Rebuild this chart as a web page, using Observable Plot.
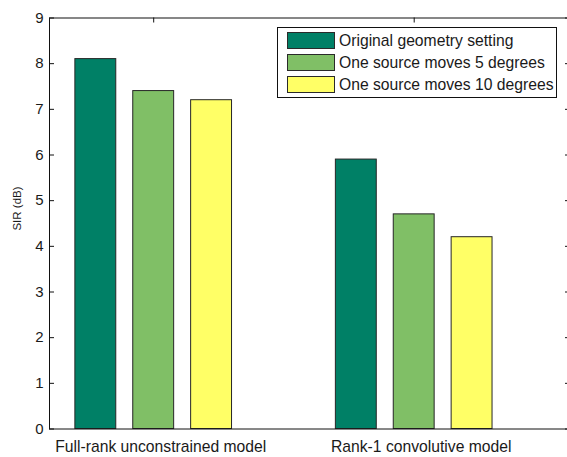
<!DOCTYPE html>
<html>
<head>
<meta charset="utf-8">
<script src="https://cdn.jsdelivr.net/npm/d3@7"></script>
<script src="https://cdn.jsdelivr.net/npm/@observablehq/plot@0.6"></script>
<style>
  html, body { margin: 0; padding: 0; background: white; }
  #wrap { position: relative; width: 567px; height: 457px; overflow: hidden; font-family: "Liberation Sans", Arial, sans-serif; }
  #legend { position: absolute; left: 277px; top: 27px; width: 280px; height: 71px; border: 1px solid #111; background: white; box-sizing: border-box; }
  .row { position: absolute; left: 9px; height: 17px; display: flex; align-items: center; white-space: nowrap; }
  .sw { width: 48px; height: 17px; border: 1px solid #2a2a2a; box-sizing: border-box; margin-right: 4px; }
  .lt { font-size: 15.7px; color: #1a1a1a; }
</style>
</head>
<body>
<div id="wrap"><div id="legend"></div></div>
<script>
const groups = ["Full-rank unconstrained model", "Rank-1 convolutive model"];
const series = ["Original geometry setting", "One source moves 5 degrees", "One source moves 10 degrees"];
const original = [8.1, 5.9];
const moved5 = [7.4, 4.7];
const moved10 = [7.2, 4.2];
const yTicks = [0, 1, 2, 3, 4, 5, 6, 7, 8, 9];
const xTicks = [1, 2];
const colors = ["#008066", "#80bf66", "#ffff66"];
const yLabel = "SIR (dB)";

const seriesValues = [original, moved5, moved10];
const rows = groups.flatMap((g, gi) => seriesValues.map((vals, si) => ({group: g, series: series[si], value: vals[gi], gi, si})));

const width = 567, height = 457;
const marginLeft = 49, marginRight = -3, marginTop = 17.5, marginBottom = 28.5;
const W = width - marginLeft - marginRight;
const H = height - marginTop - marginBottom;
const step = 0.2222, barW = 0.157;

const chart = Plot.plot({
  width, height, marginLeft, marginRight, marginTop, marginBottom,
  style: {fontFamily: "Liberation Sans, Arial, sans-serif", fontSize: "15px", color: "#1a1a1a", background: "white", overflow: "visible"},
  x: {type: "linear", domain: [0.6, 2.6], axis: null},
  y: {domain: [0, 9], axis: null},
  color: {domain: series, range: colors},
  marks: [
    Plot.rect(rows, {
      x1: d => d.gi + 1 + (d.si - 1) * step - barW / 2,
      x2: d => d.gi + 1 + (d.si - 1) * step + barW / 2,
      y1: 0, y2: "value",
      fill: "series", stroke: "#262626", strokeWidth: 1
    }),
    Plot.frame({stroke: "#111", strokeWidth: 1}),
    Plot.tickY(yTicks, {y: d => d, insetRight: W - 5, stroke: "#111"}),
    Plot.tickY(yTicks, {y: d => d, insetLeft: W - 5, stroke: "#111"}),
    Plot.tickX(xTicks, {x: d => d, insetBottom: H - 5, stroke: "#111"}),
    Plot.axisY(yTicks, {tickSize: 0, tickPadding: 6, fontSize: 15, label: null}),
    Plot.axisX(xTicks, {tickSize: 0, tickPadding: 12, fontSize: 15.7, dx: 7, label: null, tickFormat: d => groups[d - 1]}),
    Plot.text([yLabel], {frameAnchor: "left", dx: -32, dy: -15, rotate: -90, textAnchor: "middle", lineAnchor: "middle", fontSize: 11.5, text: d => d})
  ]
});
document.getElementById("wrap").prepend(chart);

const legend = document.getElementById("legend");
series.forEach((s, i) => {
  const row = document.createElement("div");
  row.className = "row";
  row.style.top = (4 + i * 22) + "px";
  const sw = document.createElement("div");
  sw.className = "sw";
  sw.style.background = colors[i];
  const t = document.createElement("span");
  t.className = "lt";
  t.textContent = s;
  row.append(sw, t);
  legend.append(row);
});
</script>
</body>
</html>
